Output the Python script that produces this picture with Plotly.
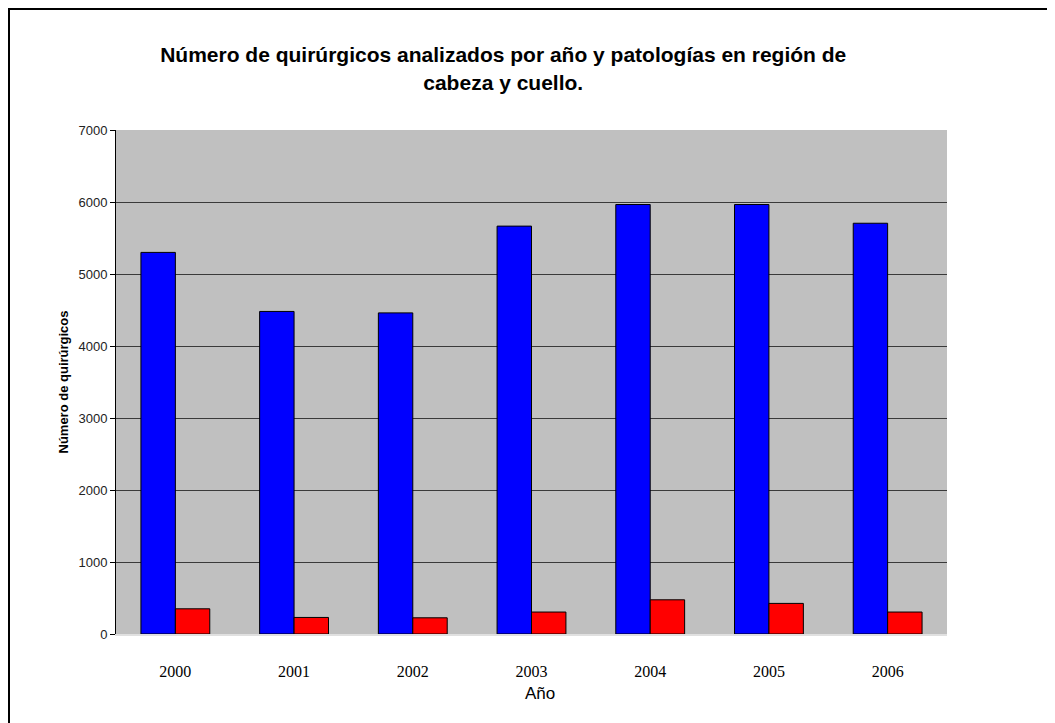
import plotly.graph_objects as go

years = ["2000", "2001", "2002", "2003", "2004", "2005", "2006"]
quirurgicos = [5300, 4480, 4460, 5665, 5965, 5965, 5705]
patologias = [350, 230, 225, 305, 475, 425, 305]
y_ticks = [0, 1000, 2000, 3000, 4000, 5000, 6000, 7000]

W, H = 1047, 715
L, R, T, B = 108, 108, 122, 89
pw, ph = W - L - R, H - T - B

fig = go.Figure()
fig.add_trace(go.Bar(x=years, y=quirurgicos, name="Quirúrgicos",
                     marker=dict(color="#0000FF", line=dict(color="#000000", width=1))))
fig.add_trace(go.Bar(x=years, y=patologias, name="Patologías cabeza y cuello",
                     marker=dict(color="#FF0000", line=dict(color="#000000", width=1))))

fig.update_layout(
    width=W, height=H,
    margin=dict(l=L, r=R, t=T, b=B),
    paper_bgcolor="white",
    plot_bgcolor="#C0C0C0",
    barmode="group",
    bargap=0.42,
    bargroupgap=0,
    showlegend=False,
    title=dict(
        text="<b>Número de quirúrgicos analizados por año y patologías en región de<br>cabeza y cuello.</b>",
        font=dict(family="Liberation Sans, Arial", size=21, color="black"),
        x=0.473, xanchor="center", xref="container",
        y=0.924, yanchor="middle", yref="container",
    ),
    xaxis=dict(
        type="category",
        tickfont=dict(family="Liberation Serif, Times New Roman", size=16, color="black"),
        ticks="outside", ticklen=22, tickcolor="rgba(0,0,0,0)",
        showline=True, linecolor="#E0E0E0", linewidth=2,
    ),
    yaxis=dict(
        range=[0, 7000],
        tickvals=y_ticks,
        tickfont=dict(family="Liberation Sans, Arial", size=13, color="#222"),
        ticks="outside", ticklen=5, tickcolor="black",
        showline=True, linecolor="black", linewidth=1,
        showgrid=True, gridcolor="#3a3a3a", gridwidth=1,
        zeroline=False,
        title=dict(text="<b>Número de quirúrgicos</b>",
                   font=dict(family="Liberation Sans, Arial", size=13, color="black"),
                   standoff=6),
    ),
    annotations=[dict(text="Año", xref="paper", yref="paper", x=0.51, y=0,
                      xanchor="center", yanchor="middle", yshift=-59, showarrow=False,
                      font=dict(family="Liberation Sans, Arial", size=17, color="black"))],
    shapes=[dict(type="rect", xref="paper", yref="paper",
                 x0=(-L + 1) / pw, x1=1.2, y0=-0.3, y1=1 + (T - 1) / ph,
                 line=dict(color="black", width=2), fillcolor="rgba(0,0,0,0)", layer="below")],
)

fig.write_html("out.html")
